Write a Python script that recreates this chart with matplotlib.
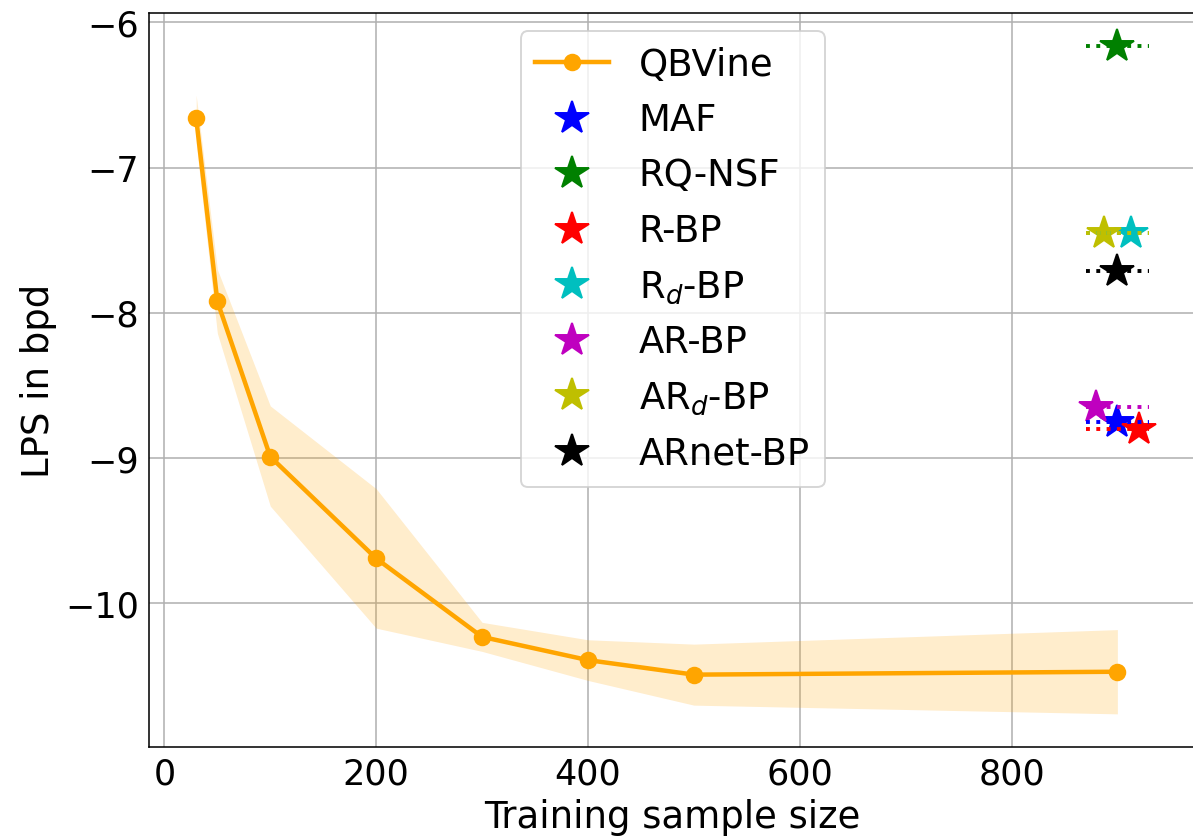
import numpy as np
import matplotlib.pyplot as plt

# QBVine results: mean LPS and band over repeated runs
n_train = [30, 50, 100, 200, 300, 400, 500, 900]
qbvine_mean = [-6.66, -7.92, -8.99, -9.69, -10.23, -10.39, -10.49, -10.47]
qbvine_upper = [-6.50, -7.70, -8.64, -9.21, -10.13, -10.25, -10.28, -10.18]
qbvine_lower = [-6.83, -8.14, -9.33, -10.17, -10.33, -10.53, -10.70, -10.76]

# baselines, all trained on the full 900 samples
methods = ['MAF', 'RQ-NSF', 'R-BP', 'R$_d$-BP', 'AR-BP', 'AR$_d$-BP', 'ARnet-BP']
method_lps = [-8.75, -6.165, -8.80, -7.45, -8.65, -7.45, -7.71]
method_x = [900, 900, 920, 913, 880, 887, 900]
colors = ['b', 'g', 'r', 'c', 'm', 'y', 'k']

plt.rcParams['font.size'] = 19
plt.rcParams['xtick.labelsize'] = 18
plt.rcParams['ytick.labelsize'] = 18

dpi = 140
fig = plt.figure(figsize=(1193.3 / dpi, 837.3 / dpi), dpi=dpi)
ax = fig.add_axes([148.5 / 1193, 1 - 747.3 / 837, 1048 / 1193, 734 / 837])

ax.plot(n_train, qbvine_mean, 'o-', color='orange', lw=2.3, ms=8, label='QBVine')
ax.fill_between(n_train, qbvine_lower, qbvine_upper, color='orange', alpha=0.2, lw=0)

for m, lps, xm, c in zip(methods, method_lps, method_x, colors):
    ax.plot(xm, lps, '*', color=c, ms=18, label=m)
for lps, c in zip(method_lps, colors):
    ax.hlines(lps, 870, 930, colors=c, linestyles=':', lw=2, zorder=3)

ax.set_xlim(-15, 975)
ax.set_ylim(-10.99, -5.935)
ax.set_xticks([0, 200, 400, 600, 800])
ax.set_yticks([-10, -9, -8, -7, -6])
ax.tick_params(direction='in', length=0, pad=5)
ax.grid(True)
ax.set_axisbelow(True)

ax.set_xlabel('Training sample size')
ax.set_ylabel('LPS in bpd')
ax.legend(loc='upper center')

fig.savefig('out.png', dpi=dpi)
